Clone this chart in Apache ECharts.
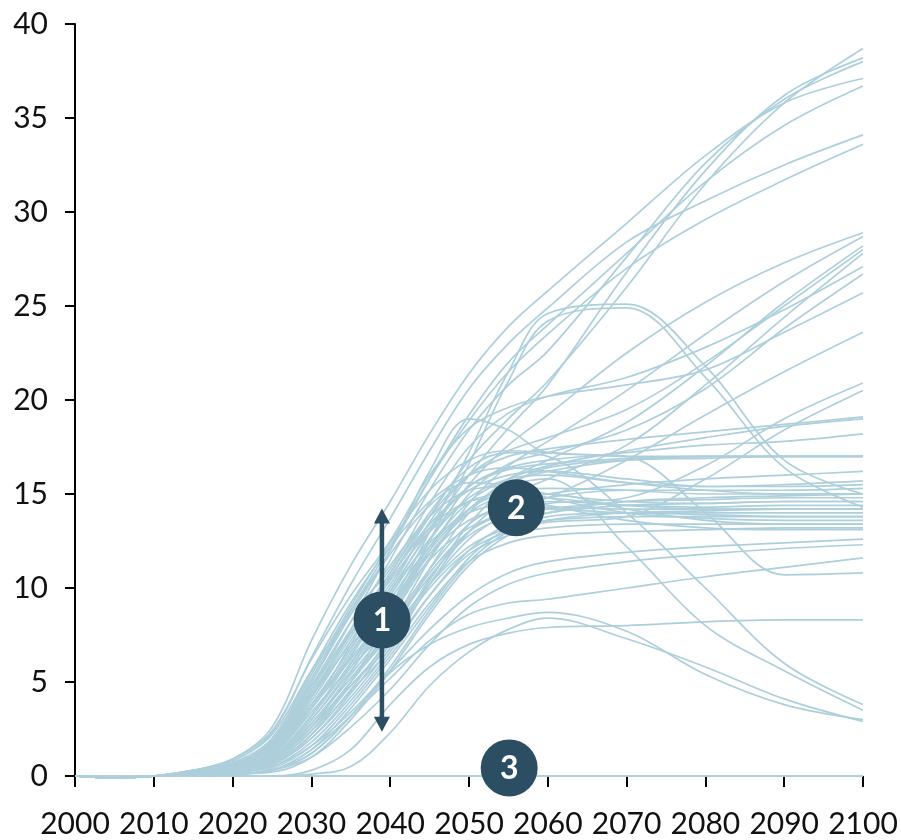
<!DOCTYPE html>
<html>
<head>
<meta charset="utf-8">
<script src="https://cdn.jsdelivr.net/npm/echarts@6/dist/echarts.min.js"></script>
<style>
  html, body { margin: 0; padding: 0; background: #ffffff; }
  #chart { width: 901px; height: 840px; }
</style>
</head>
<body>
<div id="chart"></div>
<script>
// Sample years shared by every pathway
const YEARS = [2000, 2005, 2010, 2015, 2020, 2025, 2030, 2035, 2040, 2045, 2050, 2055, 2060, 2070, 2080, 2090, 2100];

// Axis ranges and tick steps
const X_RANGE = [2000, 2100];
const X_STEP = 10;
const Y_RANGE = [0, 40];
const Y_STEP = 5;

// Fastest-growing pathways (end between ~33 and ~39)
const highPaths = [
  [0, -0.1, 0, 0.3, 0.9, 2.6, 7.2, 11.2, 14.6, 18.2, 21.4, 23.9, 25.8, 29.4, 33.0, 35.8, 37.1],
  [0, -0.1, 0, 0.3, 0.8, 2.3, 6.3, 10.2, 13.7, 17.3, 20.6, 23.0, 24.9, 28.4, 30.6, 32.5, 34.1],
  [0, -0.1, 0, 0.2, 0.5, 1.2, 3.6, 7.0, 10.5, 13.8, 16.8, 19.0, 21.0, 26.0, 31.5, 35.8, 38.7],
  [0, -0.1, 0, 0.2, 0.4, 1.0, 3.2, 6.4, 9.8, 13.0, 16.0, 18.5, 20.8, 26.8, 32.2, 36.2, 38.2],
  [0, -0.1, 0, 0.2, 0.6, 1.4, 4.2, 7.8, 11.5, 15.2, 18.4, 20.8, 22.6, 27.6, 32.6, 36.0, 38.0],
  [0, -0.1, 0, 0.3, 0.7, 1.6, 4.6, 8.2, 12.0, 15.8, 19.2, 22.0, 24.0, 27.8, 31.6, 34.6, 36.7],
  [0, -0.1, 0, 0.2, 0.6, 1.8, 5.0, 8.8, 12.2, 15.8, 18.9, 21.5, 23.5, 27.0, 29.6, 31.7, 33.6]
];

// Pathways that keep climbing to ~24-29
const risingPaths = [
  [0, -0.1, 0, 0.2, 0.5, 1.5, 4.2, 7.0, 9.0, 12.5, 15.5, 17.6, 19.2, 22.5, 25.2, 27.3, 28.9],
  [0, -0.1, 0, 0.2, 0.4, 1.1, 3.4, 5.8, 8.0, 11.5, 14.5, 16.5, 17.8, 20.5, 23.5, 26.3, 28.7],
  [0, -0.1, 0, 0.1, 0.3, 0.8, 2.8, 5.2, 7.5, 11.0, 14.0, 15.8, 16.8, 18.8, 21.8, 25.2, 28.2],
  [0, -0.1, 0, 0.2, 0.6, 1.8, 4.8, 7.6, 10.0, 13.5, 16.0, 17.3, 18.0, 19.5, 22.0, 25.0, 28.0],
  [0, -0.1, 0, 0.1, 0.2, 0.6, 2.2, 4.5, 6.8, 10.2, 13.0, 14.8, 15.8, 17.6, 20.8, 24.4, 27.8],
  [0, -0.1, 0, 0.3, 0.8, 2.2, 5.6, 8.6, 11.0, 14.5, 17.5, 19.3, 20.2, 21.2, 22.8, 24.8, 27.1],
  [0, -0.1, 0, 0.2, 0.4, 1.3, 3.8, 6.3, 8.5, 12.0, 15.0, 16.6, 17.2, 18.4, 20.6, 23.8, 26.7],
  [0, -0.1, 0, 0.3, 0.9, 2.4, 6.2, 9.6, 12.5, 16.0, 18.5, 19.6, 20.2, 20.8, 21.6, 23.6, 25.7],
  [0, -0.1, 0, 0.1, 0.3, 0.9, 2.6, 4.8, 7.0, 10.5, 13.0, 14.2, 14.8, 16.8, 19.2, 21.5, 23.6]
];

// Pathways that peak mid-century and then fall back
const peakingPaths = [
  [0, -0.1, 0, 0.1, 0.3, 0.8, 2.6, 5.5, 9.0, 13.0, 17.2, 21.5, 24.6, 25.1, 21.8, 16.8, 15.0],
  [0, -0.1, 0, 0.1, 0.2, 0.6, 2.2, 5.0, 8.5, 12.5, 16.6, 21.0, 24.2, 24.9, 21.2, 16.4, 14.3],
  [0, -0.1, 0, 0.2, 0.6, 1.8, 5.0, 8.6, 12.0, 16.2, 19.0, 18.4, 17.2, 17.0, 14.0, 10.7, 10.8],
  [0, -0.1, 0, 0.1, 0.4, 1.2, 3.6, 6.2, 9.0, 12.0, 14.2, 15.4, 15.8, 12.2, 8.0, 5.6, 3.5],
  [0, -0.1, 0, 0.2, 0.5, 1.5, 4.4, 7.6, 10.8, 14.0, 16.4, 17.2, 17.0, 14.0, 10.0, 6.0, 3.8],
  [0, -0.1, 0, 0, 0.1, 0.3, 1.2, 3.2, 5.5, 7.0, 7.9, 8.4, 8.7, 7.7, 5.4, 3.8, 3.0],
  [0, -0.1, 0, 0, 0, 0, 0.1, 0.5, 2.3, 4.8, 6.6, 7.8, 8.4, 7.3, 5.8, 4.1, 2.9],
  [0, -0.1, 0, 0, 0, 0, 0.3, 1.4, 3.8, 5.8, 7.0, 7.6, 7.9, 8.0, 8.2, 8.3, 8.3]
];

// Pathways levelling off between ~16 and ~21
const plateauPaths = [
  [0, -0.1, 0, 0.1, 0.3, 1.0, 3.2, 6.0, 8.8, 11.5, 13.2, 14.0, 14.5, 14.8, 16.5, 19.0, 20.9],
  [0, -0.1, 0, 0.1, 0.2, 0.7, 2.4, 4.8, 7.2, 10.0, 12.0, 13.0, 13.5, 13.8, 15.8, 18.4, 20.5],
  [0, -0.1, 0, 0.2, 0.5, 1.6, 4.6, 7.8, 10.8, 13.8, 16.0, 17.0, 17.4, 17.9, 18.3, 18.7, 19.1],
  [0, -0.1, 0, 0.1, 0.3, 1.0, 3.2, 6.0, 9.0, 12.2, 14.6, 15.8, 16.5, 17.3, 18.0, 18.6, 19.0],
  [0, -0.1, 0, 0.2, 0.4, 1.2, 3.8, 6.8, 9.8, 13.0, 15.4, 16.4, 16.8, 17.2, 17.6, 17.8, 18.2],
  [0, -0.1, 0, 0.1, 0.3, 0.9, 3.0, 5.6, 8.4, 11.6, 14.2, 15.6, 16.2, 16.8, 17.0, 17.0, 17.0],
  [0, -0.1, 0, 0.2, 0.5, 1.4, 4.0, 7.2, 10.2, 13.2, 15.4, 16.3, 16.6, 16.9, 17.0, 17.0, 17.0],
  [0, -0.1, 0, 0.1, 0.2, 0.6, 2.0, 4.4, 7.2, 10.4, 13.4, 15.4, 16.4, 16.8, 16.9, 17.0, 17.0],
  [0, -0.1, 0, 0.2, 0.6, 1.9, 5.4, 9.0, 12.4, 15.2, 16.8, 17.3, 17.2, 17.0, 17.0, 17.0, 17.0],
  [0, -0.1, 0, 0.1, 0.3, 0.8, 2.8, 5.4, 8.0, 11.0, 13.4, 14.5, 15.0, 15.5, 15.8, 16.0, 16.2]
];

// Dense central band settling between ~12 and ~16
const centralPaths = [
  [0, -0.1, 0, 0.1, 0.4, 1.2, 3.6, 6.6, 9.6, 12.6, 14.8, 15.8, 16.0, 15.6, 15.4, 15.5, 15.7],
  [0, -0.1, 0, 0.2, 0.5, 1.6, 4.4, 7.6, 10.6, 13.4, 15.2, 16.0, 16.2, 15.8, 15.4, 15.4, 15.5],
  [0, -0.1, 0, 0.1, 0.2, 0.6, 2.2, 4.6, 7.4, 10.2, 12.6, 14.0, 14.8, 15.2, 15.2, 15.2, 15.3],
  [0, -0.1, 0, 0.1, 0.3, 1.0, 3.0, 5.8, 8.8, 11.8, 14.0, 15.0, 15.3, 15.2, 15.0, 15.0, 15.0],
  [0, -0.1, 0, 0, 0.1, 0.3, 1.4, 3.6, 6.2, 9.0, 11.6, 13.2, 14.0, 14.6, 14.8, 14.9, 15.0],
  [0, -0.1, 0, 0.2, 0.7, 2.0, 5.6, 9.2, 12.2, 14.6, 16.0, 16.4, 16.2, 15.6, 15.2, 15.0, 15.0],
  [0, -0.1, 0, 0.1, 0.3, 0.9, 2.8, 5.2, 7.8, 10.6, 12.8, 13.8, 14.2, 14.6, 14.7, 14.8, 14.8],
  [0, -0.1, 0, 0.1, 0.2, 0.5, 1.8, 4.0, 6.6, 9.6, 12.0, 13.4, 14.0, 14.4, 14.5, 14.6, 14.6],
  [0, -0.1, 0, 0.2, 0.6, 1.7, 4.8, 8.2, 11.2, 13.8, 15.2, 15.4, 15.0, 14.6, 14.5, 14.6, 14.6],
  [0, -0.1, 0, 0.1, 0.4, 1.3, 3.8, 6.8, 9.8, 12.4, 14.0, 14.5, 14.6, 14.4, 14.3, 14.4, 14.4],
  [0, -0.1, 0, 0.1, 0.2, 0.7, 2.4, 5.0, 7.8, 10.8, 13.0, 14.0, 14.3, 14.2, 14.2, 14.2, 14.2],
  [0, -0.1, 0, 0, 0.1, 0.2, 1.0, 3.0, 5.6, 8.6, 11.2, 12.8, 13.6, 14.0, 14.1, 14.2, 14.2],
  [0, -0.1, 0, 0.2, 0.5, 1.5, 4.2, 7.4, 10.4, 13.0, 14.6, 15.0, 14.8, 14.4, 14.2, 14.2, 14.2],
  [0, -0.1, 0, 0.1, 0.3, 1.0, 3.2, 6.0, 9.0, 11.8, 13.6, 14.2, 14.2, 14.0, 14.0, 14.0, 14.0],
  [0, -0.1, 0, 0.1, 0.3, 0.8, 2.6, 5.0, 7.6, 10.2, 12.2, 13.2, 13.6, 13.8, 13.8, 13.8, 13.8],
  [0, -0.1, 0, 0, 0.1, 0.3, 1.2, 3.2, 5.8, 8.8, 11.4, 13.0, 13.8, 14.0, 13.9, 13.8, 13.8],
  [0, -0.1, 0, 0.2, 0.6, 1.8, 5.2, 8.8, 11.8, 14.4, 15.6, 15.4, 14.8, 14.0, 13.7, 13.6, 13.6],
  [0, -0.1, 0, 0.1, 0.2, 0.6, 2.0, 4.2, 6.8, 9.6, 11.8, 12.8, 13.2, 13.4, 13.4, 13.4, 13.4],
  [0, -0.1, 0, 0.1, 0.4, 1.2, 3.6, 6.4, 9.4, 12.2, 14.2, 15.0, 15.0, 14.2, 13.6, 13.4, 13.4],
  [0, -0.1, 0, 0, 0.1, 0.4, 1.6, 3.8, 6.4, 9.2, 11.4, 12.4, 12.8, 13.0, 13.1, 13.2, 13.2],
  [0, -0.1, 0, 0.2, 0.5, 1.5, 4.4, 7.6, 10.6, 13.2, 14.6, 14.8, 14.4, 13.6, 13.2, 13.1, 13.1],
  [0, -0.1, 0, 0.1, 0.2, 0.5, 1.6, 3.4, 5.6, 7.8, 9.6, 10.8, 11.4, 11.9, 12.2, 12.4, 12.6],
  [0, -0.1, 0, 0, 0.1, 0.3, 1.0, 2.6, 4.6, 7.0, 9.0, 10.2, 10.8, 11.4, 11.8, 12.1, 12.3],
  [0, -0.1, 0, 0, 0.1, 0.3, 1.4, 3.2, 5.2, 7.2, 8.6, 9.2, 9.4, 10.0, 10.6, 11.1, 11.6]
];

// Pathways that never take off
const flatPaths = [
  [0, 0, 0, 0, 0, 0, 0, 0, 0, 0, 0, 0, 0, 0, 0, 0, 0],
  [0, 0, 0, 0, 0, 0, 0, 0, 0, 0, 0, 0, 0, 0, 0, 0, 0],
  [0, 0, 0, 0, 0, 0, 0, 0, 0, 0, 0, 0, 0, 0, 0, 0, 0]
];

// Numbered callouts: [year, value, label]
const CALLOUTS = [
  [2038.97, 8.3, '1'],
  [2056.0, 14.27, '2'],
  [2055.1, 0.43, '3']
];

// Range arrow: [year, low, high]
const RANGE_ARROW = [[2038.95, 2.36, 14.23]];

const LINE_COLOR = '#adcfdb';
const MARK_COLOR = '#2b4e63';
const FONT = 'Lato, "Open Sans", sans-serif';

const allPaths = [].concat(flatPaths, centralPaths, plateauPaths, peakingPaths, risingPaths, highPaths);

const pathSeries = allPaths.map(function (values, i) {
  return {
    type: 'line',
    name: 'path' + i,
    data: YEARS.map(function (y, k) { return [y, values[k]]; }),
    showSymbol: false,
    smooth: 0.35,
    clip: false,
    silent: true,
    lineStyle: { color: LINE_COLOR, width: 1.7 },
    z: 2
  };
});

const arrowSeries = {
  type: 'custom',
  name: 'range',
  data: RANGE_ARROW,
  z: 5,
  silent: true,
  renderItem: function (params, api) {
    const x = api.value(0);
    const bottom = api.coord([x, api.value(1)]);
    const top = api.coord([x, api.value(2)]);
    const headLen = 15;
    const headHalf = 8;
    return {
      type: 'group',
      children: [
        {
          type: 'line',
          shape: { x1: top[0], y1: top[1] + headLen - 1, x2: bottom[0], y2: bottom[1] - headLen + 1 },
          style: { stroke: MARK_COLOR, lineWidth: 4.5 }
        },
        {
          type: 'polygon',
          shape: { points: [[top[0], top[1]], [top[0] - headHalf, top[1] + headLen], [top[0] + headHalf, top[1] + headLen]] },
          style: { fill: MARK_COLOR }
        },
        {
          type: 'polygon',
          shape: { points: [[bottom[0], bottom[1]], [bottom[0] - headHalf, bottom[1] - headLen], [bottom[0] + headHalf, bottom[1] - headLen]] },
          style: { fill: MARK_COLOR }
        }
      ]
    };
  }
};

// Numbered discs with their digit drawn as centred text
const calloutSeries = {
  type: 'custom',
  name: 'callouts',
  data: CALLOUTS,
  z: 10,
  silent: true,
  renderItem: function (params, api) {
    const c = api.coord([api.value(0), api.value(1)]);
    return {
      type: 'group',
      children: [
        { type: 'circle', shape: { cx: c[0], cy: c[1], r: 28.5 }, style: { fill: MARK_COLOR } },
        {
          type: 'text',
          x: c[0],
          y: c[1] + 1,
          style: {
            text: CALLOUTS[params.dataIndex][2],
            fill: '#ffffff',
            font: 'bold 32px Lato, "Open Sans", sans-serif',
            textAlign: 'center',
            textVerticalAlign: 'middle',
            align: 'center',
            verticalAlign: 'middle'
          }
        }
      ]
    };
  }
};

const chart = echarts.init(document.getElementById('chart'), null, { renderer: 'canvas' });
chart.setOption({
  animation: false,
  backgroundColor: '#ffffff',
  grid: { left: 75, right: 38, top: 24, bottom: 64, containLabel: false },
  xAxis: {
    type: 'value',
    min: X_RANGE[0],
    max: X_RANGE[1],
    interval: X_STEP,
    axisLine: { show: false },
    axisTick: { show: true, length: 11, lineStyle: { color: '#000000', width: 2 } },
    splitLine: { show: false },
    axisLabel: {
      margin: 33,
      color: '#111111',
      fontFamily: FONT,
      fontSize: 30,
      formatter: function (v) { return String(v); }
    }
  },
  yAxis: {
    type: 'value',
    min: Y_RANGE[0],
    max: Y_RANGE[1],
    interval: Y_STEP,
    axisLine: { show: true, lineStyle: { color: '#000000', width: 2 } },
    axisTick: { show: true, length: 10, lineStyle: { color: '#000000', width: 2 } },
    splitLine: { show: false },
    axisLabel: {
      margin: 27,
      color: '#111111',
      fontFamily: FONT,
      fontSize: 30,
      formatter: function (v) { return String(v); }
    }
  },
  series: pathSeries.concat([arrowSeries, calloutSeries])
});
</script>
</body>
</html>
